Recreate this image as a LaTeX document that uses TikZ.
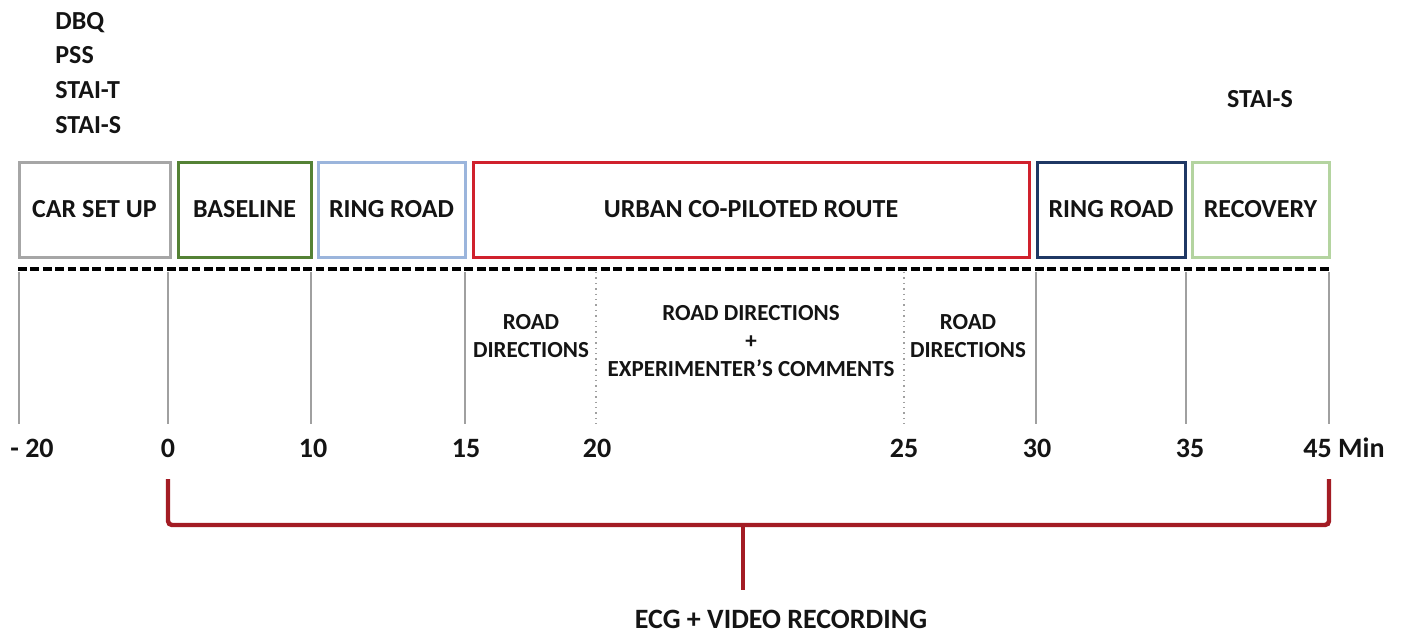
\documentclass[tikz,border=0pt]{standalone}
\usepackage{fontspec}
\setmainfont{Carlito}
\definecolor{cgray}{RGB}{166,166,166}
\definecolor{cgreen}{RGB}{84,130,53}
\definecolor{clblue}{RGB}{155,181,220}
\definecolor{cred}{RGB}{208,33,45}
\definecolor{cnavy}{RGB}{31,56,100}
\definecolor{clgreen}{RGB}{180,212,160}
\definecolor{cbracket}{RGB}{163,28,36}
\definecolor{ctick}{RGB}{160,160,160}
\definecolor{ctext}{RGB}{20,20,20}
\begin{document}
\begin{tikzpicture}[x=0.5pt,y=-0.5pt,
  every node/.style={text=ctext},
  phase/.style={draw, line width=1.5pt, inner sep=0pt, minimum height=47.5pt,
    font=\fontsize{13}{15}\selectfont\bfseries},
  quest/.style={anchor=base west, inner sep=0pt, font=\fontsize{13}{15}\selectfont\bfseries},
  sub/.style={align=center, inner sep=0pt, font=\fontsize{11.5}{13.8}\selectfont\bfseries},
  num/.style={anchor=base, inner sep=0pt, font=\fontsize{14}{16}\selectfont\bfseries},
  tickline/.style={draw=ctick, line width=0.8pt},
  dotline/.style={draw=ctick, line width=0.7pt, dotted},
  timeline/.style={draw=black, line width=1.9pt, dash pattern=on 4.4pt off 1.8pt},
  bracket/.style={draw=cbracket, line width=2.2pt, rounded corners=2pt}
]
\useasboundingbox (0,0) rectangle (1406,634);

% questionnaires
\node[quest] (q1) at (55,29) {DBQ};
\node[quest] (q2) at (55,63) {PSS};
\node[quest] (q3) at (55,98) {STAI-T};
\node[quest] (q4) at (55,133) {STAI-S};
\node[anchor=base, inner sep=0pt, font=\fontsize{13}{15}\selectfont\bfseries] (q5) at (1260,107) {STAI-S};

% phases
\node[phase, draw=cgray,   minimum width=75.5pt] (car)    at (94.5,209.5)  {CAR SET UP};
\node[phase, draw=cgreen,  minimum width=66.5pt] (base)   at (244.5,209.5) {BASELINE};
\node[phase, draw=clblue,  minimum width=73.5pt] (ring1)  at (391.5,209.5) {RING ROAD};
\node[phase, draw=cred,    minimum width=278pt]  (urban)  at (751,209.5)   {URBAN CO-PILOTED ROUTE};
\node[phase, draw=cnavy,   minimum width=74pt]   (ring2)  at (1111,209.5)  {RING ROAD};
\node[phase, draw=clgreen, minimum width=68.5pt] (recov)  at (1260.5,209.5){RECOVERY};

% timeline
\coordinate (tl0) at (18,269);
\coordinate (tl1) at (1330,269);
\draw[timeline] (tl0) -- (tl1);

% ticks
\foreach \n/\x in {m20/19, t0/168, t10/311, t15/465, t30/1036, t35/1186, t45/1329}{
  \coordinate (\n a) at (\x,272);
  \coordinate (\n b) at (\x,424);
  \draw[tickline] (\n a) -- (\n b);
}
\foreach \n/\x in {t20/596, t25/904}{
  \coordinate (\n a) at (\x,272);
  \coordinate (\n b) at (\x,424);
  \draw[dotline] (\n a) -- (\n b);
}

% sub-phase labels
\node[sub] (rd1) at (531,336) {ROAD\\DIRECTIONS};
\node[sub] (rd2) at (751,341) {ROAD DIRECTIONS\\+\\EXPERIMENTER’S COMMENTS};
\node[sub] (rd3) at (968,336) {ROAD\\DIRECTIONS};

% time labels
\node[num] (n1) at (32,457) {- 20};
\node[num] (n2) at (168,457) {0};
\node[num] (n3) at (313,457) {10};
\node[num] (n4) at (466,457) {15};
\node[num] (n5) at (597,457) {20};
\node[num] (n6) at (904,457) {25};
\node[num] (n7) at (1037,457) {30};
\node[num] (n8) at (1190,457) {35};
\node[num, anchor=base west] (n9) at (1303,457) {45 Min};

% bracket
\coordinate (bl) at (168,479);
\coordinate (br) at (1329,479);
\coordinate (bm) at (743,525);
\coordinate (bs) at (743,590);
\draw[bracket] (bl) |- (bm) -| (br);
\draw[draw=cbracket, line width=2.2pt] (bm) -- (bs);
\node[num] (ecg) at (781,628) {ECG + VIDEO RECORDING};
\end{tikzpicture}
\end{document}
